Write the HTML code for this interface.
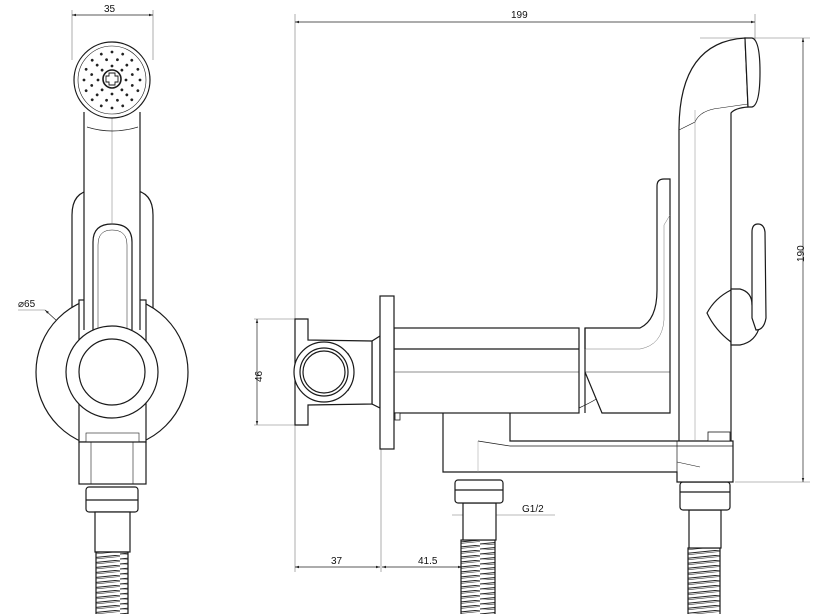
<!DOCTYPE html>
<html><head><meta charset="utf-8"><style>
html,body{margin:0;padding:0;background:#fff;}
svg{display:block}
text{font-family:"Liberation Sans",Arial,sans-serif;font-size:10px;fill:#111}
</style></head><body>
<svg width="820" height="614" viewBox="0 0 820 614" xmlns="http://www.w3.org/2000/svg" xmlns:xlink="http://www.w3.org/1999/xlink">
<defs>
<pattern id="rib" width="40" height="5" patternUnits="userSpaceOnUse">
<line x1="0" y1="4" x2="40" y2="0" stroke="#222" stroke-width="1"/>
<line x1="0" y1="5.5" x2="40" y2="1.5" stroke="#222" stroke-width="0.6"/>
</pattern>
<circle id="d13" cx="112" cy="66" r="1.4" fill="#222"/>
<circle id="d20" cx="112" cy="59" r="1.4" fill="#222"/>
<circle id="d27" cx="112" cy="52" r="1.4" fill="#222"/>
<marker id="ar" viewBox="0 0 10 10" refX="10" refY="5" markerWidth="6" markerHeight="6" orient="auto-start-reverse"><path d="M0,2 L10,5 L0,8 z" fill="#222"/></marker>
</defs>

<g stroke="#777" stroke-width="0.6" fill="none">
<line x1="72" y1="10" x2="72" y2="60"/><line x1="153" y1="10" x2="153" y2="60"/>
<line x1="295" y1="14" x2="295" y2="572"/><line x1="755" y1="14" x2="755" y2="40"/>
<line x1="700" y1="38" x2="810" y2="38"/><line x1="735" y1="482" x2="810" y2="482"/>
<line x1="254" y1="319" x2="298" y2="319"/><line x1="254" y1="425" x2="298" y2="425"/>
<line x1="381" y1="449" x2="381" y2="572"/>
<line x1="452" y1="515" x2="555" y2="515"/>
<line x1="18" y1="310" x2="45" y2="310"/>
<line x1="112" y1="118" x2="112" y2="228"/>
<line x1="112" y1="418" x2="112" y2="440"/>
</g>
<g stroke="#222" stroke-width="0.7" fill="none" marker-start="url(#ar)" marker-end="url(#ar)">
<line x1="72" y1="15" x2="153" y2="15"/>
<line x1="295" y1="22" x2="755" y2="22"/>
<line x1="803" y1="38" x2="803" y2="482"/>
<line x1="257" y1="319" x2="257" y2="425"/>
<line x1="295" y1="567" x2="380" y2="567"/>
<line x1="382" y1="567" x2="462" y2="567"/>
<line x1="45" y1="310" x2="166" y2="421"/>
</g>
<text x="104" y="12">35</text>
<text x="511" y="18">199</text>
<text x="798" y="268" transform="rotate(-90 798 262)">190</text>
<text x="246" y="378" transform="rotate(-90 256 372)">46</text>
<text x="331" y="564">37</text>
<text x="418" y="564">41.5</text>
<text x="522" y="512">G1/2</text>
<text x="18" y="307">⌀65</text>

<g stroke="#1a1a1a" stroke-width="1.2" fill="#fff">
<!-- LEFT VIEW -->
<path d="M72,350 L72,215 Q72,192 92,190 L133,190 Q153,192 153,215 L153,350 Z"/>
<circle cx="112" cy="372" r="76"/>
<rect x="79" y="300" width="67" height="142"/>
<rect x="84" y="112" width="56" height="200" stroke="none"/>
<line x1="84" y1="112" x2="84" y2="330"/><line x1="140" y1="112" x2="140" y2="330"/>
<path d="M93,330 L93,242 Q93,224 112,224 Q132,224 132,242 L132,330"/>
<path d="M98,330 L98,245 Q98,230 112,230 Q127,230 127,245 L127,330" stroke-width="0.5"/>
<line x1="112" y1="118" x2="112" y2="224" stroke-width="0.5" stroke="#777"/>
<circle cx="112" cy="372" r="46"/>
<circle cx="112" cy="372" r="33"/>
<path d="M87,127 Q112,135 138,127" fill="none" stroke-width="0.7"/>
<circle cx="112" cy="80" r="38"/>
<circle cx="112" cy="80" r="34" stroke-width="0.6"/>
<circle cx="112" cy="79" r="9" stroke-width="1.6"/>
<path d="M109,73 h6 v3 h3 v6 h-3 v3 h-6 v-3 h-3 v-6 h3 z" stroke-width="0.9"/>
<rect x="86" y="433" width="53" height="9" stroke-width="0.6"/>
<rect x="79" y="442" width="67" height="42"/>
<line x1="91" y1="442" x2="91" y2="484" stroke-width="0.6"/><line x1="133" y1="442" x2="133" y2="484" stroke-width="0.6"/>
<rect x="86" y="487" width="52" height="25" rx="3"/>
<line x1="86" y1="500" x2="138" y2="500"/>
<rect x="95" y="512" width="35" height="40"/>
<rect x="96" y="552" width="32" height="70" fill="url(#rib)"/>

<!-- RIGHT VIEW -->
<rect x="461" y="540" width="34" height="80" fill="url(#rib)"/>
<rect x="688" y="548" width="32" height="72" fill="url(#rib)"/>
<rect x="463" y="503" width="33" height="37"/>
<rect x="455" y="480" width="48" height="23" rx="3"/>
<line x1="455" y1="490" x2="503" y2="490"/>
<rect x="689" y="510" width="32" height="38"/>
<rect x="680" y="482" width="50" height="28" rx="3"/>
<line x1="680" y1="492" x2="730" y2="492"/>

<path d="M679,460 L679,130 Q679,42 745,38 L748,107 Q735,108 731,113 L731,460 Z"/>
<path d="M679,130 L695,122 Q700,110 720,108 L748,104" fill="none" stroke-width="0.6"/>
<line x1="695" y1="110" x2="695" y2="440" stroke="#888" stroke-width="0.5"/>
<path d="M745,38 L752,38 Q760,40 760,72 Q760,105 752,107 L748,107 Z"/>
<path d="M731,290 Q715,298 707,313 Q715,330 731,342 Z"/>
<path d="M731,289 L740,289 Q752,292 752,305 L760,325 Q756,342 740,345 L731,345 Z"/>
<path d="M752,232 Q752,224 758,224 Q764,224 765,232 L766,318 Q764,330 756,330 L752,318 Z"/>

<path d="M443,472 L443,413 Q476,385 510,413 L510,441 L733,441 L733,482 L677,482 L677,472 Z"/>
<path d="M478,441 L510,446 L733,446" fill="none" stroke-width="0.7"/>
<path d="M478,441 L478,472" fill="none" stroke="#999" stroke-width="0.5"/>
<path d="M677,462 L700,467" fill="none" stroke-width="0.6"/>
<line x1="677" y1="441" x2="677" y2="482" stroke-width="0.7"/>
<rect x="708" y="432" width="22" height="9" stroke-width="0.8"/>

<rect x="394" y="328" width="185" height="85"/>
<line x1="394" y1="349" x2="579" y2="349"/>
<line x1="394" y1="372" x2="579" y2="372" stroke-width="0.6"/>
<path d="M579,408 Q590,403 598,398" fill="none" stroke-width="0.7"/>
<path d="M585,413 L585,328 L640,328 Q657,320 657,290 L657,186 Q657,179 664,179 L670,179 L670,413 L602,413 L585,372" />
<line x1="585" y1="372" x2="670" y2="372" stroke-width="0.6"/>
<path d="M585,349 L640,349 Q662,345 664,320 L664,225 L670,215" fill="none" stroke-width="0.5" stroke="#777"/>
<line x1="585" y1="349" x2="585" y2="328"/>
<rect x="395" y="413" width="5" height="7" stroke-width="0.8"/>

<path d="M372,341 L380,336 L380,408 L372,404 Z"/>
<path d="M308,319 L308,340 L372,341 L372,404 L308,405 L308,425 L295,425 L295,319 Z"/>
<circle cx="324" cy="372" r="30"/>
<circle cx="324" cy="372" r="24"/>
<circle cx="324" cy="372" r="21"/>
<path d="M348,353 Q360,372 348,391" fill="none" stroke-width="0.6"/>
<rect x="380" y="296" width="14" height="153"/>
</g>

<!-- spray dots -->
<g>
<use href="#d13" xlink:href="#d13" transform="rotate(0 112 80)"/>
<use href="#d13" xlink:href="#d13" transform="rotate(45 112 80)"/>
<use href="#d13" xlink:href="#d13" transform="rotate(90 112 80)"/>
<use href="#d13" xlink:href="#d13" transform="rotate(135 112 80)"/>
<use href="#d13" xlink:href="#d13" transform="rotate(180 112 80)"/>
<use href="#d13" xlink:href="#d13" transform="rotate(225 112 80)"/>
<use href="#d13" xlink:href="#d13" transform="rotate(270 112 80)"/>
<use href="#d13" xlink:href="#d13" transform="rotate(315 112 80)"/>
<use href="#d20" xlink:href="#d20" transform="rotate(15 112 80)"/>
<use href="#d20" xlink:href="#d20" transform="rotate(45 112 80)"/>
<use href="#d20" xlink:href="#d20" transform="rotate(75 112 80)"/>
<use href="#d20" xlink:href="#d20" transform="rotate(105 112 80)"/>
<use href="#d20" xlink:href="#d20" transform="rotate(135 112 80)"/>
<use href="#d20" xlink:href="#d20" transform="rotate(165 112 80)"/>
<use href="#d20" xlink:href="#d20" transform="rotate(195 112 80)"/>
<use href="#d20" xlink:href="#d20" transform="rotate(225 112 80)"/>
<use href="#d20" xlink:href="#d20" transform="rotate(255 112 80)"/>
<use href="#d20" xlink:href="#d20" transform="rotate(285 112 80)"/>
<use href="#d20" xlink:href="#d20" transform="rotate(315 112 80)"/>
<use href="#d20" xlink:href="#d20" transform="rotate(345 112 80)"/>
<use href="#d27" xlink:href="#d27" transform="rotate(0 112 80)"/>
<use href="#d27" xlink:href="#d27" transform="rotate(22.5 112 80)"/>
<use href="#d27" xlink:href="#d27" transform="rotate(45 112 80)"/>
<use href="#d27" xlink:href="#d27" transform="rotate(67.5 112 80)"/>
<use href="#d27" xlink:href="#d27" transform="rotate(90 112 80)"/>
<use href="#d27" xlink:href="#d27" transform="rotate(112.5 112 80)"/>
<use href="#d27" xlink:href="#d27" transform="rotate(135 112 80)"/>
<use href="#d27" xlink:href="#d27" transform="rotate(157.5 112 80)"/>
<use href="#d27" xlink:href="#d27" transform="rotate(180 112 80)"/>
<use href="#d27" xlink:href="#d27" transform="rotate(202.5 112 80)"/>
<use href="#d27" xlink:href="#d27" transform="rotate(225 112 80)"/>
<use href="#d27" xlink:href="#d27" transform="rotate(247.5 112 80)"/>
<use href="#d27" xlink:href="#d27" transform="rotate(270 112 80)"/>
<use href="#d27" xlink:href="#d27" transform="rotate(292.5 112 80)"/>
<use href="#d27" xlink:href="#d27" transform="rotate(315 112 80)"/>
<use href="#d27" xlink:href="#d27" transform="rotate(337.5 112 80)"/>
</g>
</svg>
</body></html>
